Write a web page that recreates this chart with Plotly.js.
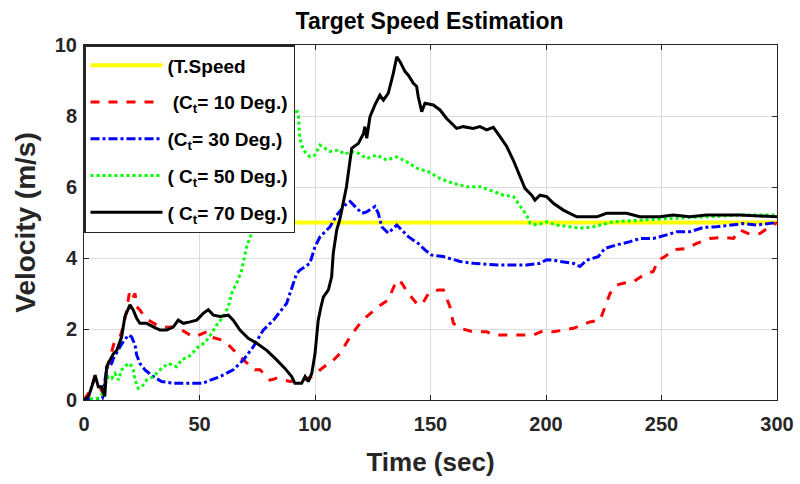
<!DOCTYPE html>
<html>
<head>
<meta charset="utf-8">
<script src="https://cdn.plot.ly/plotly-3.0.1.min.js"></script>
<style>html,body{margin:0;padding:0;background:#fff;}#chart{width:800px;height:484px;}</style>
</head>
<body>
<div id="chart"></div>
<script>
// Target speed (constant)
const speedX = [0, 300];
const speedY = [5, 5];

// C_t = 10 Deg.
const ct10X = [0,3,4.8,6.5,8.4,10,12,13.4,15.6,17,18.5,19.6,20.6,22.1,22.8,24.2,25.7,28,31.5,35,40.1,43,45.9,48.1,50.5,53.1,54.5,59.6,61.8,66.8,69,74,76.2,80.5,83.4,89.2,94.9,98.6,100.7,102.2,105,106.5,110.8,115.2,119.5,122.4,127.4,131.7,135.4,137.5,140.4,144,146.2,149.1,153.4,155.6,158.4,159.9,162.8,168.5,174.3,177.9,185.8,194.5,198.8,203.2,211.8,219,223.4,225.5,227.7,230.6,233.5,237.8,242.1,246.4,248.6,251.5,255.1,260.9,265.2,271,276.8,281.1,284,287.6,292.6,296.9,300];
const ct10Y = [0,0.3,0.66,0.4,0.15,0.9,1.4,1.69,1.78,2.06,2.54,3.0,2.82,3.0,2.63,2.54,2.39,2.25,2.11,2.05,2.06,1.95,1.83,1.78,1.85,1.92,1.78,1.69,1.6,1.27,1.13,0.85,0.85,0.56,0.61,0.52,0.56,0.66,0.75,0.85,0.99,1.03,1.31,1.78,2.16,2.35,2.63,2.82,3.38,3.3,3.0,2.72,2.68,3.0,3.1,3.1,2.63,2.16,2.02,1.92,1.92,1.83,1.83,1.83,1.95,1.92,2.02,2.2,2.25,2.63,3.0,3.24,3.29,3.33,3.52,3.62,3.94,4.04,4.23,4.27,4.41,4.55,4.58,4.55,4.79,4.69,4.69,4.88,5.0];

// C_t = 30 Deg.
const ct30X = [0,8,9.8,12,12.7,14.2,15.6,17,19.2,20.6,22.1,22.8,24.2,26.4,30,33.6,38.7,45.9,51.6,53.1,58.9,64.6,69,73.3,77.6,82,87.7,92.1,93.5,97.8,100,102.2,106.5,109.4,113,115.2,118.1,120.3,122.4,126,127.4,128.9,131.7,135.4,140.4,144.7,147.6,150.5,155.6,162.8,168.5,180.1,191.6,197.4,200.3,203.2,206.1,211.8,214.7,217.6,222.6,225.5,230.6,236.4,240.7,246.4,252.2,256.6,262.3,268.1,273.9,279.7,285.5,291.3,297,300];
const ct30Y = [0,0.05,0.89,1.03,1.17,1.36,1.5,1.64,1.83,1.78,1.55,1.27,1.03,0.85,0.66,0.52,0.47,0.47,0.47,0.52,0.66,0.85,1.13,1.5,1.97,2.25,2.72,3.57,3.66,3.85,4.32,4.6,4.88,5.21,5.49,5.59,5.4,5.26,5.3,5.45,5.26,4.88,4.7,4.93,4.6,4.41,4.23,4.08,4.04,3.9,3.85,3.8,3.8,3.85,3.95,3.94,3.9,3.85,3.76,3.94,4.04,4.27,4.37,4.46,4.55,4.55,4.65,4.74,4.74,4.86,4.88,4.93,4.97,4.93,4.97,5.0];

// C_t = 50 Deg.
const ct50X = [0,6,7.6,10.5,12,13.4,14.9,16.3,18.5,19.9,21.3,22.1,23.5,25,27.1,30,33.6,36.5,40.1,42.3,45.9,49.5,52.4,55.3,57.4,60.3,62.5,63.9,66.1,68.3,70.4,72.6,75,80,85,89,91.5,92.8,93.3,94.9,97.8,100,102.2,104.3,106.5,110.1,113,115.2,118.8,122.4,126.7,131,135.4,139.7,144,149.1,154.1,159.9,165.7,171.4,177.2,181.6,185.9,188.7,191.6,193.1,196,200.3,204.6,214.7,220.5,229.1,240.6,255,269.5,283.9,300];
const ct50Y = [0,0.05,0.14,0.66,0.61,0.75,0.56,0.85,0.99,1.03,0.85,0.56,0.33,0.37,0.56,0.66,0.89,1.03,0.94,1.13,1.25,1.5,1.62,1.88,2.11,2.35,2.63,3.0,3.29,3.66,4.32,4.7,5.3,6.2,7.0,7.7,8.2,8.08,7.4,7.04,6.85,6.9,7.18,7.09,7.0,7.04,6.92,7.0,6.95,6.8,6.9,6.76,6.85,6.71,6.53,6.43,6.24,6.1,6.01,6.01,5.87,5.77,5.73,5.49,5.21,4.98,4.93,5.02,4.93,4.84,4.88,5.02,5.07,5.12,5.16,5.21,5.21];

// C_t = 70 Deg.
const ct70X = [0,2,3.5,4.8,6.2,7.6,9,9.8,11.3,12.7,14.2,16.3,17.7,19.9,21.3,22.8,24.2,27.1,30,32.9,35.8,38.7,40.8,43,45.9,48.8,51.6,53.8,56,58.9,62.5,64.6,67.5,71.1,74.8,79.1,83.4,87,89.9,91.3,94.2,95.7,97.1,98.6,100,101.4,102.5,103.6,105.8,107.2,107.9,109.4,110.8,111.5,113.6,115.2,115.9,118.8,121,121.6,122.4,123.8,126,128.1,129.6,131.7,133.9,135.4,136.8,139,140.4,142.6,144,144.7,146.2,147.6,151.2,154.1,157,161.3,164.2,168.5,171.4,174.3,177.2,180.1,183,185.8,188.7,190.9,193.8,195.2,197.4,200.3,203.2,207.5,213.3,217.6,222,226.2,234.9,240.6,249.3,255,262.3,269.5,283.9,300];
const ct70Y = [0,0.1,0.4,0.7,0.37,0.37,0.1,0.94,1.13,1.3,1.4,1.78,2.35,2.68,2.54,2.3,2.16,2.16,2.06,1.97,1.97,2.06,2.25,2.16,2.2,2.25,2.44,2.54,2.39,2.35,2.39,2.25,1.97,1.74,1.6,1.4,1.13,0.89,0.66,0.47,0.47,0.66,0.52,0.75,1.3,2.25,2.6,2.9,3.1,3.47,4.13,4.79,5.1,5.35,6.0,6.76,7.09,7.23,7.51,7.7,7.37,7.98,8.32,8.59,8.45,8.64,9.2,9.67,9.53,9.25,9.15,8.92,8.83,8.54,8.12,8.36,8.31,8.17,7.93,7.65,7.7,7.65,7.7,7.61,7.68,7.42,7.14,6.76,6.29,5.96,5.77,5.63,5.77,5.73,5.54,5.35,5.16,5.16,5.16,5.26,5.26,5.16,5.16,5.21,5.16,5.21,5.21,5.16];

const legendNames = [
  '(T.Speed',
  '&nbsp;(C<sub>t</sub>= 10 Deg.)',
  '(C<sub>t</sub>= 30 Deg.)',
  '( C<sub>t</sub>= 50 Deg.)',
  '( C<sub>t</sub>= 70 Deg.)'
];
const xTicks = [0, 50, 100, 150, 200, 250, 300];
const yTicks = [0, 2, 4, 6, 8, 10];

const FONT = 'Liberation Sans, Arial, sans-serif';

const traces = [
  {x: speedX, y: speedY, name: legendNames[0], mode: 'lines', line: {color: '#ffff00', width: 4}, legendgroup: 'a'},
  {x: ct10X, y: ct10Y, name: legendNames[1], mode: 'lines', line: {color: '#ff0000', width: 3, dash: 'dash'}, legendgroup: 'b'},
  {x: ct30X, y: ct30Y, name: legendNames[2], mode: 'lines', line: {color: '#0000ff', width: 3, dash: 'dashdot'}, legendgroup: 'c'},
  {x: ct50X, y: ct50Y, name: legendNames[3], mode: 'lines', line: {color: '#00ff00', width: 3, dash: 'dot'}, legendgroup: 'd'},
  {x: ct70X, y: ct70Y, name: legendNames[4], mode: 'lines', line: {color: '#000000', width: 3}, legendgroup: 'e'}
];

const axisCommon = {
  showline: true, mirror: 'ticks', linecolor: '#262626', linewidth: 1,
  ticks: 'inside', ticklen: 5, tickcolor: '#262626',
  showgrid: true, gridcolor: '#dcdcdc', gridwidth: 1,
  zeroline: false,
  tickfont: {family: FONT, size: 20, color: '#262626', weight: 'bold'}
};

const layout = {
  width: 800, height: 484,
  margin: {l: 84, r: 23, t: 45, b: 84},
  paper_bgcolor: '#ffffff', plot_bgcolor: '#ffffff',
  title: {text: 'Target Speed Estimation', x: 0.537, xanchor: 'center', y: 0.957, yanchor: 'middle',
          font: {family: FONT, size: 23, color: '#000000', weight: 'bold'}},
  xaxis: Object.assign({}, axisCommon, {
    range: [0, 300], tickvals: xTicks, ticktext: xTicks.map(String), ticklabelstandoff: 6,
    title: {text: 'Time (sec)', standoff: 18, font: {family: FONT, size: 26, color: '#262626', weight: 'bold'}}
  }),
  yaxis: Object.assign({}, axisCommon, {
    range: [0, 10], tickvals: yTicks, ticktext: yTicks.map(String), ticklabelstandoff: 2,
    title: {text: 'Velocity (m/s)', standoff: 10, font: {family: FONT, size: 28, color: '#262626', weight: 'bold'}}
  }),
  showlegend: true,
  legend: {
    x: 0, y: 1, xanchor: 'left', yanchor: 'top',
    bgcolor: '#ffffff', bordercolor: '#262626', borderwidth: 1.5,
    font: {family: FONT, size: 19, color: '#000000', weight: 'bold'},
    itemwidth: 72, tracegroupgap: 9, traceorder: 'grouped'
  }
};

Plotly.newPlot('chart', traces, layout, {displayModeBar: false, staticPlot: true});
</script>
</body>
</html>
